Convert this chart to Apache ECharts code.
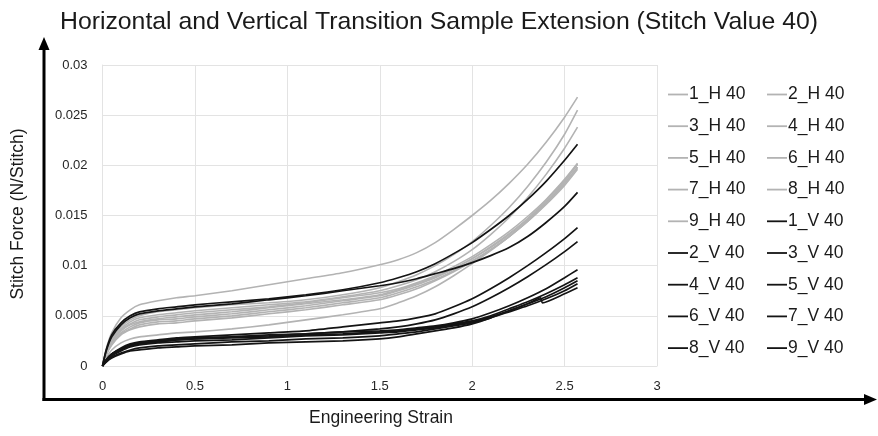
<!DOCTYPE html>
<html>
<head>
<meta charset="utf-8">
<script src="https://cdn.jsdelivr.net/npm/echarts@6/dist/echarts.min.js"></script>
<style>
  html, body { margin: 0; padding: 0; background: #fff; }
  #chart { width: 878px; height: 436px; }
</style>
</head>
<body>
<div id="chart"></div>
<script>
// Engineering strain sample points shared by most curves
const strain     = [0, .02, .05, .1, .15, .2, .3, .4, .5, .7, .9, 1.1, 1.3, 1.5, 1.6, 1.7, 1.8, 1.9, 2.0, 2.1, 2.2, 2.3, 2.4, 2.5, 2.57];
// 9_V has a small load drop near the end, so it carries its own points there
const strainStep = [0, .02, .05, .1, .15, .2, .3, .4, .5, .7, .9, 1.1, 1.3, 1.5, 1.6, 1.7, 1.8, 1.9, 2.0, 2.1, 2.2, 2.3, 2.37, 2.38, 2.5, 2.57];

// Horizontal transition samples (N/stitch)
const h1 = [0, .0017, .0033, .0048, .0056, .0061, .0065, .0068, .0070, .0075, .0081, .0087, .0093, .0101, .0106, .0113, .0123, .0136, .0150, .0165, .0182, .0201, .0223, .0248, .0268];
const h2 = [0, .0014, .0027, .0039, .0046, .0050, .0054, .0056, .0058, .0061, .0063, .0066, .0071, .0078, .0084, .0091, .0100, .0111, .0124, .0140, .0158, .0179, .0203, .0231, .0255];
const h3 = [0, .0013, .0026, .0037, .0044, .0048, .0051, .0053, .0055, .0058, .0061, .0064, .0069, .0075, .0080, .0086, .0094, .0104, .0116, .0131, .0148, .0168, .0191, .0217, .0238];
const h4 = [0, .0013, .0025, .0036, .0042, .0046, .0049, .0051, .0053, .0056, .0059, .0063, .0068, .0073, .0077, .0083, .0090, .0099, .0109, .0121, .0134, .0149, .0166, .0186, .0202];
const h5 = [0, .0012, .0024, .0035, .0041, .0044, .0047, .0049, .0051, .0054, .0058, .0062, .0066, .0071, .0076, .0082, .0089, .0097, .0107, .0118, .0131, .0146, .0163, .0182, .0198];
const h6 = [0, .0012, .0023, .0033, .0039, .0043, .0046, .0047, .0049, .0052, .0056, .0060, .0065, .0070, .0075, .0081, .0088, .0097, .0107, .0119, .0132, .0147, .0165, .0185, .0201];
const h7 = [0, .0011, .0022, .0032, .0037, .0041, .0044, .0045, .0047, .0050, .0054, .0058, .0063, .0068, .0073, .0079, .0086, .0095, .0105, .0116, .0129, .0144, .0161, .0180, .0196];
const h8 = [0, .0011, .0021, .0031, .0036, .0039, .0042, .0043, .0045, .0048, .0052, .0056, .0061, .0066, .0071, .0077, .0085, .0094, .0104, .0116, .0129, .0144, .0162, .0182, .0198];
const h9 = [0, .0008, .0016, .0023, .0027, .0029, .0031, .0033, .0034, .0037, .0041, .0046, .0051, .0057, .0063, .0070, .0079, .0090, .0102, .0115, .0129, .0145, .0163, .0184, .0201];

// Vertical transition samples (N/stitch)
const v1 = [0, .0016, .0031, .0043, .0050, .0054, .0057, .0059, .0061, .0064, .0067, .0071, .0076, .0083, .0088, .0094, .0102, .0112, .0123, .0136, .0150, .0166, .0184, .0205, .0221];
const v2 = [0, .0015, .0029, .0041, .0048, .0052, .0055, .0057, .0059, .0062, .0066, .0070, .0075, .0080, .0083, .0087, .0092, .0097, .0103, .0110, .0118, .0129, .0143, .0159, .0173];
const v3 = [0, .0006, .0012, .0018, .0022, .0024, .0026, .0028, .0029, .0031, .0033, .0035, .0039, .0043, .0045, .0048, .0052, .0059, .0067, .0077, .0088, .0100, .0113, .0127, .0138];
const v4 = [0, .0006, .0012, .0017, .0021, .0023, .0025, .0027, .0028, .0029, .0031, .0032, .0034, .0037, .0039, .0042, .0046, .0052, .0059, .0068, .0078, .0089, .0101, .0114, .0124];
const v5 = [0, .0006, .0012, .0017, .0020, .0022, .0024, .0026, .0027, .0029, .0030, .0032, .0034, .0035, .0036, .0038, .0040, .0043, .0047, .0053, .0060, .0068, .0077, .0088, .0096];
const v6 = [0, .0006, .0011, .0016, .0020, .0022, .0024, .0026, .0027, .0028, .0029, .0031, .0032, .0034, .0035, .0037, .0039, .0042, .0045, .0050, .0057, .0064, .0072, .0081, .0088];
const v7 = [0, .0005, .0010, .0015, .0019, .0021, .0023, .0024, .0025, .0026, .0028, .0030, .0031, .0033, .0034, .0036, .0038, .0041, .0044, .0049, .0055, .0062, .0069, .0078, .0085];
const v8 = [0, .0004, .0009, .0013, .0016, .0018, .0020, .0021, .0022, .0024, .0025, .0027, .0028, .0030, .0032, .0034, .0037, .0040, .0043, .0048, .0054, .0060, .0067, .0075, .0082];
const v9 = [0, .0004, .0008, .0012, .0015, .0016, .0018, .0019, .0020, .0021, .0023, .0024, .0025, .0027, .0029, .0032, .0035, .0038, .0042, .0048, .0055, .0062, .0068, .0063, .0072, .0078];

const hNames = ['1_H 40', '2_H 40', '3_H 40', '4_H 40', '5_H 40', '6_H 40', '7_H 40', '8_H 40', '9_H 40'];
const vNames = ['1_V 40', '2_V 40', '3_V 40', '4_V 40', '5_V 40', '6_V 40', '7_V 40', '8_V 40', '9_V 40'];

const xTicks = [0, 0.5, 1, 1.5, 2, 2.5, 3];
const yTicks = [0, 0.005, 0.01, 0.015, 0.02, 0.025, 0.03];

const GRAY = '#b3b3b3';
const BLACK = '#141414';
const FONT = 'Liberation Sans';

const hValues = [h1, h2, h3, h4, h5, h6, h7, h8, h9];
const vValues = [v1, v2, v3, v4, v5, v6, v7, v8, v9];

function lineSeries(name, xs, ys, color, width) {
  return {
    name: name,
    type: 'line',
    data: xs.map((x, i) => [x, ys[i]]),
    showSymbol: false,
    symbol: 'none',
    smooth: 0.2,
    lineStyle: { color: color, width: width },
    itemStyle: { color: color },
    emphasis: { disabled: true },
    z: color === BLACK ? 3 : 2
  };
}

const series = [];
hValues.forEach((ys, i) => series.push(lineSeries(hNames[i], strain, ys, GRAY, 1.6)));
vValues.forEach((ys, i) => series.push(lineSeries(vNames[i], i === 8 ? strainStep : strain, ys, BLACK, 1.7)));

// legend: names laid out row by row in two columns
const allNames = hNames.concat(vNames);
const leftCol = allNames.filter((_, i) => i % 2 === 0);
const rightCol = allNames.filter((_, i) => i % 2 === 1);

const legendBase = {
  orient: 'vertical',
  top: 84.5,
  padding: 0,
  itemWidth: 20,
  itemHeight: 20,
  itemGap: 11.7,
  icon: 'path://M0,0 L20,0 L20,1.8 L0,1.8 Z',
  selectedMode: false,
  textStyle: { fontFamily: FONT, fontSize: 17.5, color: '#1a1a1a', lineHeight: 20, padding: [0, 0, 0, -4] }
};

const chart = echarts.init(document.getElementById('chart'), null, { renderer: 'canvas' });
chart.setOption({
  animation: false,
  backgroundColor: '#ffffff',
  title: {
    text: 'Horizontal and Vertical Transition Sample Extension (Stitch Value 40)',
    left: 'center',
    top: 5,
    textStyle: { fontFamily: FONT, fontSize: 24.8, fontWeight: 'normal', color: '#1a1a1a' }
  },
  legend: [
    Object.assign({}, legendBase, { left: 668, data: leftCol }),
    Object.assign({}, legendBase, { left: 767, data: rightCol })
  ],
  grid: { left: 102.5, right: 221, top: 65, bottom: 70, containLabel: false },
  xAxis: {
    type: 'value',
    min: xTicks[0],
    max: xTicks[xTicks.length - 1],
    interval: xTicks[1] - xTicks[0],
    axisLine: { show: true, lineStyle: { color: '#e3e3e3', width: 1 } },
    axisTick: { show: false },
    axisLabel: { fontFamily: FONT, fontSize: 13, color: '#262626', margin: 14 },
    splitLine: { show: true, lineStyle: { color: '#e3e3e3', width: 1 } }
  },
  yAxis: {
    type: 'value',
    min: yTicks[0],
    max: yTicks[yTicks.length - 1],
    interval: yTicks[1] - yTicks[0],
    axisLine: { show: true, lineStyle: { color: '#e3e3e3', width: 1 } },
    axisTick: { show: false },
    axisLabel: { fontFamily: FONT, fontSize: 13, color: '#262626', margin: 15 },
    splitLine: { show: true, lineStyle: { color: '#e3e3e3', width: 1 } }
  },
  graphic: [
    // heavy frame arrows around the plot
    { type: 'line', shape: { x1: 44, y1: 401, x2: 44, y2: 48 }, style: { stroke: '#000', lineWidth: 3 } },
    { type: 'polygon', shape: { points: [[38.5, 50], [49.5, 50], [44, 37]] }, style: { fill: '#000' } },
    { type: 'line', shape: { x1: 42.5, y1: 399.5, x2: 866, y2: 399.5 }, style: { stroke: '#000', lineWidth: 3 } },
    { type: 'polygon', shape: { points: [[864, 394], [864, 405], [877, 399.5]] }, style: { fill: '#000' } },
    // axis titles
    { type: 'text', x: 18, y: 214, rotation: Math.PI / 2,
      style: { text: 'Stitch Force (N/Stitch)', fontFamily: FONT, fontSize: 17.5, fill: '#1a1a1a', align: 'center', verticalAlign: 'middle' } },
    { type: 'text', x: 381, y: 418,
      style: { text: 'Engineering Strain', fontFamily: FONT, fontSize: 17.5, fill: '#1a1a1a', align: 'center', verticalAlign: 'middle' } }
  ],
  series: series
});
</script>
</body>
</html>
